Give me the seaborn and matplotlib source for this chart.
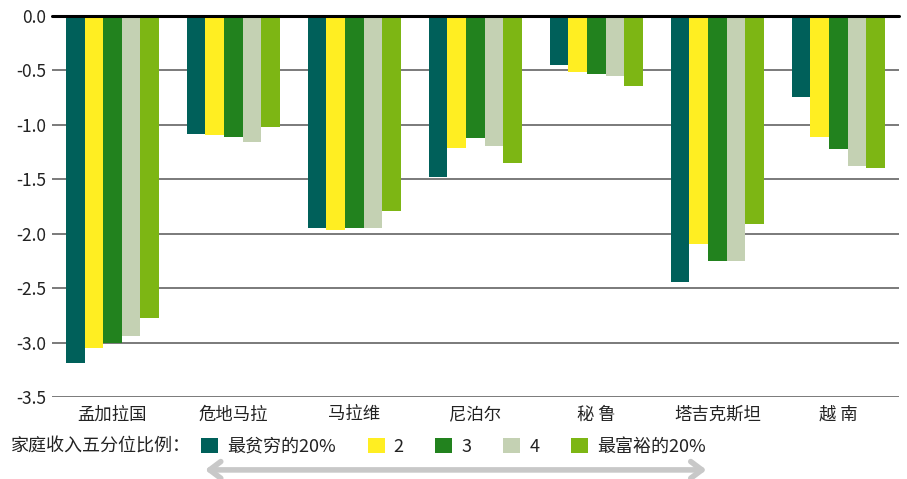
import numpy as np
import pandas as pd
import seaborn as sns
import matplotlib
matplotlib.use("Agg")
import matplotlib.pyplot as plt
from matplotlib.patches import FancyArrowPatch
from matplotlib.ticker import FixedLocator, FuncFormatter

# --- data ---
countries = ["孟加拉国", "危地马拉", "马拉维", "尼泊尔", "秘 鲁", "塔吉克斯坦", "越 南"]
quintiles = ["最贫穷的20%", "2", "3", "4", "最富裕的20%"]
q1 = [-3.19, -1.08, -1.95, -1.48, -0.45, -2.44, -0.74]
q2 = [-3.05, -1.09, -1.97, -1.21, -0.51, -2.09, -1.11]
q3 = [-3.00, -1.11, -1.95, -1.12, -0.53, -2.25, -1.22]
q4 = [-2.94, -1.16, -1.95, -1.19, -0.55, -2.25, -1.38]
q5 = [-2.77, -1.02, -1.79, -1.35, -0.64, -1.91, -1.40]
y_ticks = [0.0, -0.5, -1.0, -1.5, -2.0, -2.5, -3.0, -3.5]
legend_title = "家庭收入五分位比例："

colors = ["#00605A", "#FFEE22", "#22821E", "#C4D1B3", "#7DB614"]

df = pd.DataFrame({
    "country": countries * 5,
    "quintile": np.repeat(quintiles, len(countries)),
    "value": q1 + q2 + q3 + q4 + q5,
})

sns.set_style("white")
plt.rcParams["font.family"] = ["Noto Sans CJK SC", "DejaVu Sans"]

fig = plt.figure(figsize=(9.07, 4.79), dpi=100)
ax = fig.add_axes([0.0573, 0.1712, 0.9337, 0.7954])

sns.barplot(data=df, x="country", y="value", hue="quintile",
            hue_order=quintiles, order=countries, palette=colors,
            width=0.77, gap=0, saturation=1, errorbar=None,
            linewidth=0, ax=ax, zorder=2)

ax.set_xlim(-0.5, 6.5)
ax.set_ylim(-3.5, 0.0)
ax.yaxis.set_major_locator(FixedLocator(y_ticks))
ax.yaxis.set_major_formatter(FuncFormatter(lambda v, p: f"{v:.1f}".replace("−", "-")))
ax.set_axisbelow(True)
ax.grid(axis="y", color="#7a7a7a", linewidth=1.4, zorder=0)
ax.axhline(0, color="black", linewidth=2.2, zorder=5, clip_on=False)
for s in ax.spines.values():
    s.set_visible(False)
ax.tick_params(axis="both", length=0, colors="#222222")
ax.tick_params(axis="y", labelsize=12.5, pad=4)
ax.tick_params(axis="x", labelsize=12.5, pad=6)
ax.set_xlabel("")
ax.set_ylabel("")

# legend
handles, labels = ax.get_legend_handles_labels()
if ax.legend_:
    ax.legend_.remove()
fig.text(0.012, 0.067, legend_title, fontsize=13, color="#222222",
         va="center", ha="left")
fig.legend(handles, labels, loc="center left", bbox_to_anchor=(0.2216, 0.067),
           ncol=5, frameon=False, fontsize=13, handlelength=0.95,
           handleheight=0.95, handletextpad=0.5, columnspacing=1.75,
           borderaxespad=0, borderpad=0, labelcolor="#222222")

# double-headed grey arrow under legend
arrow = FancyArrowPatch((0.223, 0.019), (0.782, 0.019), transform=fig.transFigure,
                        arrowstyle="<->,head_length=8,head_width=6",
                        color="#C8C8C8", linewidth=4, mutation_scale=1)
fig.add_artist(arrow)

fig.savefig("out.png", dpi=100)
